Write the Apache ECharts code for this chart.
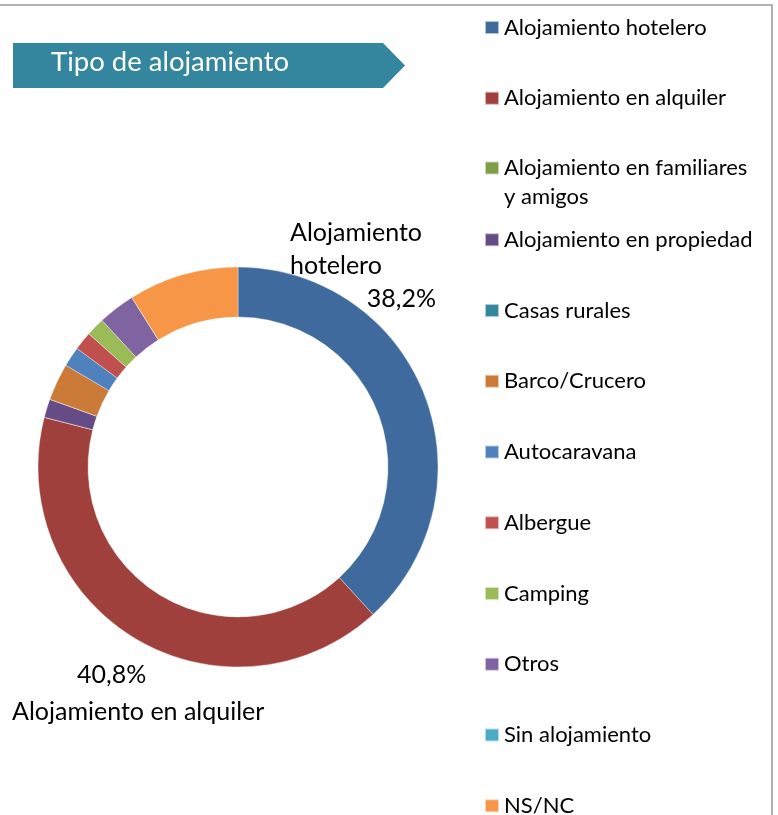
<!DOCTYPE html>
<html>
<head>
<meta charset="utf-8">
<script src="https://cdn.jsdelivr.net/npm/echarts@6/dist/echarts.min.js"></script>
<style>
    html, body { margin: 0; padding: 0; background: #fff; }
    #main { width: 778px; height: 815px; }
</style>
</head>
<body>
<div id="main"></div>
<script>
    // categorias y valores (%)
    var categorias = [
        'Alojamiento hotelero',
        'Alojamiento en alquiler',
        'Alojamiento en familiares y amigos',
        'Alojamiento en propiedad',
        'Casas rurales',
        'Barco/Crucero',
        'Autocaravana',
        'Albergue',
        'Camping',
        'Otros',
        'Sin alojamiento',
        'NS/NC'
    ];
    var valores = [38.2, 40.8, 0, 1.5, 0, 3.0, 1.6, 1.5, 1.5, 3.0, 0, 8.9];
    var colores = ['#3F6A9D', '#A0403D', '#7F9F46', '#664C86', '#35879F', '#CB7A37',
                   '#4F81BD', '#C0504D', '#9BBB59', '#8064A2', '#4BACC6', '#F79646'];
    var titulo = 'Tipo de alojamiento';

    var FONT = 'Lato';
    var myChart = echarts.init(document.getElementById('main'));

    function pct(p) {
        return p.toFixed(1).replace('.', ',') + '%';
    }

    var data = categorias.map(function (c, i) {
        return { name: c, value: valores[i], itemStyle: { color: colores[i] } };
    });

    // una leyenda por elemento para fijar la separacion vertical
    var legends = categorias.map(function (c, i) {
        var dosLineas = c === 'Alojamiento en familiares y amigos';
        var centro = 26.5 + i * 70.75;
        return {
            data: [c],
            left: 484,
            top: dosLineas ? centro - 43.5 : centro - 10,
            padding: 0,
            icon: 'rect',
            itemWidth: 14,
            itemHeight: 13,
            selectedMode: false,
            formatter: function (name) {
                // linea vacia arriba para que el icono quede junto a la primera linea
                return dosLineas ? ' \nAlojamiento en familiares\ny amigos' : name;
            },
            textStyle: {
                fontFamily: FONT,
                fontSize: 22,
                color: '#000',
                lineHeight: dosLineas ? 29 : 13
            }
        };
    });

    var option = {
        animation: false,
        backgroundColor: '#fff',
        legend: legends,
        graphic: [
            {
                type: 'rect',
                shape: { x: -2, y: 5, width: 774, height: 830 },
                style: { fill: 'none', stroke: '#9a9a9a', lineWidth: 1.5 },
                silent: true
            },
            {
                type: 'polygon',
                shape: { points: [[13, 43], [383, 43], [405, 65.5], [383, 88], [13, 88]] },
                style: { fill: '#33869E' },
                silent: true
            },
            {
                type: 'text',
                left: 51,
                top: 48,
                style: { text: titulo, fill: '#fff', font: '27.5px ' + FONT }
            }
        ],
        series: [{
            type: 'pie',
            center: [238, 467],
            radius: [150, 200],
            startAngle: 90,
            clockwise: true,
            avoidLabelOverlap: false,
            emphasis: { disabled: true },
            itemStyle: { borderColor: 'rgba(255,255,255,0.6)', borderWidth: 0.6 },
            label: {
                show: true,
                position: 'outside',
                fontFamily: FONT,
                fontSize: 25,
                color: '#000',
                formatter: function (p) {
                    if (p.dataIndex === 0) {
                        return '{n|Alojamiento}\n{n|hotelero}\n{p|' + pct(p.percent) + '}';
                    }
                    if (p.dataIndex === 1) {
                        return '{q|' + pct(p.percent) + '}\n{m|' + p.name + '}';
                    }
                    return '';
                },
                rich: {
                    n: { fontFamily: FONT, fontSize: 25, lineHeight: 33, align: 'left', color: '#000' },
                    p: { fontFamily: FONT, fontSize: 25, lineHeight: 33, align: 'right', color: '#000' },
                    q: { fontFamily: FONT, fontSize: 25, lineHeight: 37, padding: [0, 0, 0, 65], color: '#000' },
                    m: { fontFamily: FONT, fontSize: 25, lineHeight: 37, color: '#000' }
                }
            },
            labelLine: { show: false },
            labelLayout: function (params) {
                if (params.dataIndex === 0) {
                    return { x: 290, y: 216, width: 146, align: 'left', verticalAlign: 'top' };
                }
                if (params.dataIndex === 1) {
                    return { x: 12, y: 656, align: 'left', verticalAlign: 'top' };
                }
                return {};
            },
            data: data
        }]
    };

    myChart.setOption(option);
</script>
</body>
</html>
